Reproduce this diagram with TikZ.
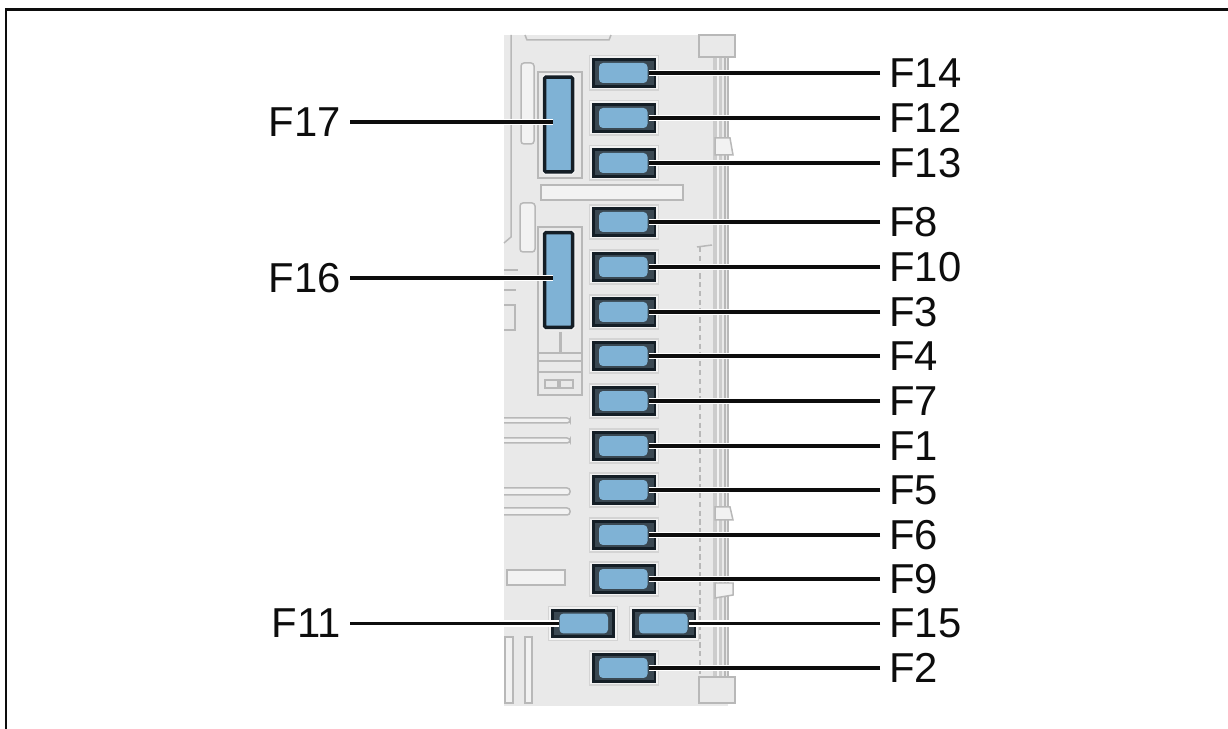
\documentclass[tikz,border=0pt]{standalone}
\usepackage{fontspec}
\setmainfont{Liberation Sans}
\usetikzlibrary{calc}
\definecolor{ink}{gray}{0.05}
\definecolor{board}{gray}{0.915}
\definecolor{pale}{gray}{0.72}
\definecolor{rail}{gray}{0.80}
\definecolor{slot}{gray}{0.95}
\definecolor{halo}{gray}{0.83}
\definecolor{fusedark}{RGB}{20,30,38}
\definecolor{fuseslate}{RGB}{58,72,82}
\definecolor{fuseblue}{RGB}{127,178,213}
\tikzset{
  detail/.style={draw=pale, line width=.03cm},
  fuse/.style={rectangle, draw=fusedark, line width=.06cm, fill=fuseslate,
    minimum width=1.24cm, minimum height=.54cm, inner sep=0pt,
    preaction={draw=halo, line width=.17cm},
    preaction={draw=slot, line width=.12cm},
    path picture={\fill[fuseblue, rounded corners=.08cm]
      ($(path picture bounding box.south west)+(.12cm,.07cm)$) rectangle
      ($(path picture bounding box.north east)+(-.15cm,-.07cm)$);}},
  fusetwin/.style={fuse,
    path picture={\fill[fuseblue, rounded corners=.08cm]
      ($(path picture bounding box.south west)+(.15cm,.07cm)$) rectangle
      ($(path picture bounding box.north east)+(-.12cm,-.07cm)$);}},
  fusebar/.style={rectangle, draw=fusedark, line width=.07cm, fill=fuseblue,
    rounded corners=.03cm, minimum width=.56cm, minimum height=1.9cm,
    preaction={draw=slot, line width=.12cm}},
  leader/.style={draw=ink, line width=.065cm,
    preaction={draw=white, line width=.13cm}},
  tag/.style={font=\fontsize{23.8}{28}\selectfont, text=ink, inner ysep=0pt},
  tagr/.style={tag, anchor=west, inner xsep=.18cm},
  tagl/.style={tag, anchor=east, inner xsep=.18cm}
}
\begin{document}
\begin{tikzpicture}[x=.02cm, y=-.02cm]
\useasboundingbox (0,0) rectangle (1228,729);
\draw[ink, line width=.06cm] (6,729) -- (6,10) -- (1228,10);

% board and its outlines, read off the crops
\fill[board] (504,35) rectangle (728,706);
\draw[detail] (511,35) -- (511,237) -- (504,243);
\draw[detail] (525,35) -- (527,40) -- (609,40) -- (611,35);
\draw[detail, fill=slot, rounded corners=.06cm] (521,63) rectangle (534,144);
\draw[detail, fill=slot, rounded corners=.06cm] (520,203) rectangle (535,252);
\draw[detail] (538,72) rectangle (582,178);
\draw[detail, fill=slot] (541,185) rectangle (683,200);
\draw[detail] (538,227) rectangle (582,395);
\draw[detail] (538,353) -- (582,353);
\draw[detail] (538,361) -- (582,361);
\draw[detail] (538,372) -- (582,372);
\draw[detail] (545,380) rectangle (558,388);
\draw[detail] (560,380) rectangle (573,388);
\draw[pale, line width=.06cm] (560,332) -- (560,352);
\draw[detail] (504,270) -- (518,270);
\draw[detail] (504,290) -- (516,290);
\draw[detail] (504,305) -- (515,305) -- (515,330) -- (504,330);
\draw[detail, fill=slot, rounded corners=.06cm] (500,418) rectangle (570,423);
\draw[detail, fill=slot, rounded corners=.06cm] (500,438) rectangle (570,443);
\draw[detail, fill=slot, rounded corners=.06cm] (500,488) rectangle (570,495);
\draw[detail, fill=slot, rounded corners=.06cm] (500,508) rectangle (570,515);
\fill[white] (498,410) rectangle (504,520);
\draw[detail, fill=slot] (507,570) rectangle (565,585);
\draw[detail, fill=slot] (505,637) rectangle (513,703);
\draw[detail, fill=slot] (525,637) rectangle (532,703);

% right-hand rails
\fill[rail] (713,58) rectangle (722,678);
\fill[slot] (717,58) rectangle (719,678);
\draw[detail] (725,58) -- (725,678);
\draw[detail] (728,58) -- (728,678);
\draw[detail, densely dashed] (700,247) -- (700,677);
\draw[detail] (697,247) -- (712,245);
\draw[detail, fill=board] (699,35) rectangle (735,57);
\draw[detail, fill=board] (699,677) rectangle (735,703);
\draw[detail, fill=slot] (715,138) -- (730,138) -- (733,155) -- (715,155) -- cycle;
\draw[detail, fill=slot] (715,507) -- (730,507) -- (733,520) -- (715,520) -- cycle;
\draw[detail, fill=slot] (715,583) -- (733,583) -- (733,595) -- (715,598) -- cycle;

\node[fusebar] (f17) at (558.5,124.5) {};
\node[fusebar] (f16) at (558.5,280) {};
\node[fuse] (f14) at (624,73) {};
\node[fuse] (f12) at (624,118) {};
\node[fuse] (f13) at (624,163) {};
\node[fuse] (f8) at (624,222) {};
\node[fuse] (f10) at (624,267) {};
\node[fuse] (f3) at (624,312) {};
\node[fuse] (f4) at (624,356) {};
\node[fuse] (f7) at (624,401) {};
\node[fuse] (f1) at (624,446) {};
\node[fuse] (f5) at (624,490) {};
\node[fuse] (f6) at (624,535) {};
\node[fuse] (f9) at (624,579) {};
\node[fusetwin] (f11) at (583,623.5) {};
\node[fuse] (f15) at (664,623.5) {};
\node[fuse] (f2) at (624,668) {};

\node[tagl] (l17) at (350,122) {F17};
\node[tagl] (l16) at (350,278) {F16};
\node[tagl] (l11) at (350,623.5) {F11};
\node[tagr] (l14) at (880,73) {F14};
\node[tagr] (l12) at (880,118) {F12};
\node[tagr] (l13) at (880,163) {F13};
\node[tagr] (l8) at (880,222) {F8};
\node[tagr] (l10) at (880,267) {F10};
\node[tagr] (l3) at (880,312) {F3};
\node[tagr] (l4) at (880,356) {F4};
\node[tagr] (l7) at (880,401) {F7};
\node[tagr] (l1) at (880,446) {F1};
\node[tagr] (l5) at (880,490) {F5};
\node[tagr] (l6) at (880,535) {F6};
\node[tagr] (l9) at (880,579) {F9};
\node[tagr] (l15) at (880,623.5) {F15};
\node[tagr] (l2) at (880,668) {F2};

% leaders run on into the fuse body
\coordinate (e17) at (553,122);
\coordinate (e16) at (553,278);
\draw[leader] (l17.east) -- (e17);
\draw[leader] (l16.east) -- (e16);
\draw[leader, shorten >=-.16cm] (l11.east) -- (f11.west);
\draw[leader, shorten >=-.16cm] (l14.west) -- (f14.east);
\draw[leader, shorten >=-.16cm] (l12.west) -- (f12.east);
\draw[leader, shorten >=-.16cm] (l13.west) -- (f13.east);
\draw[leader, shorten >=-.16cm] (l8.west) -- (f8.east);
\draw[leader, shorten >=-.16cm] (l10.west) -- (f10.east);
\draw[leader, shorten >=-.16cm] (l3.west) -- (f3.east);
\draw[leader, shorten >=-.16cm] (l4.west) -- (f4.east);
\draw[leader, shorten >=-.16cm] (l7.west) -- (f7.east);
\draw[leader, shorten >=-.16cm] (l1.west) -- (f1.east);
\draw[leader, shorten >=-.16cm] (l5.west) -- (f5.east);
\draw[leader, shorten >=-.16cm] (l6.west) -- (f6.east);
\draw[leader, shorten >=-.16cm] (l9.west) -- (f9.east);
\draw[leader, shorten >=-.16cm] (l15.west) -- (f15.east);
\draw[leader, shorten >=-.16cm] (l2.west) -- (f2.east);
\end{tikzpicture}
\end{document}
